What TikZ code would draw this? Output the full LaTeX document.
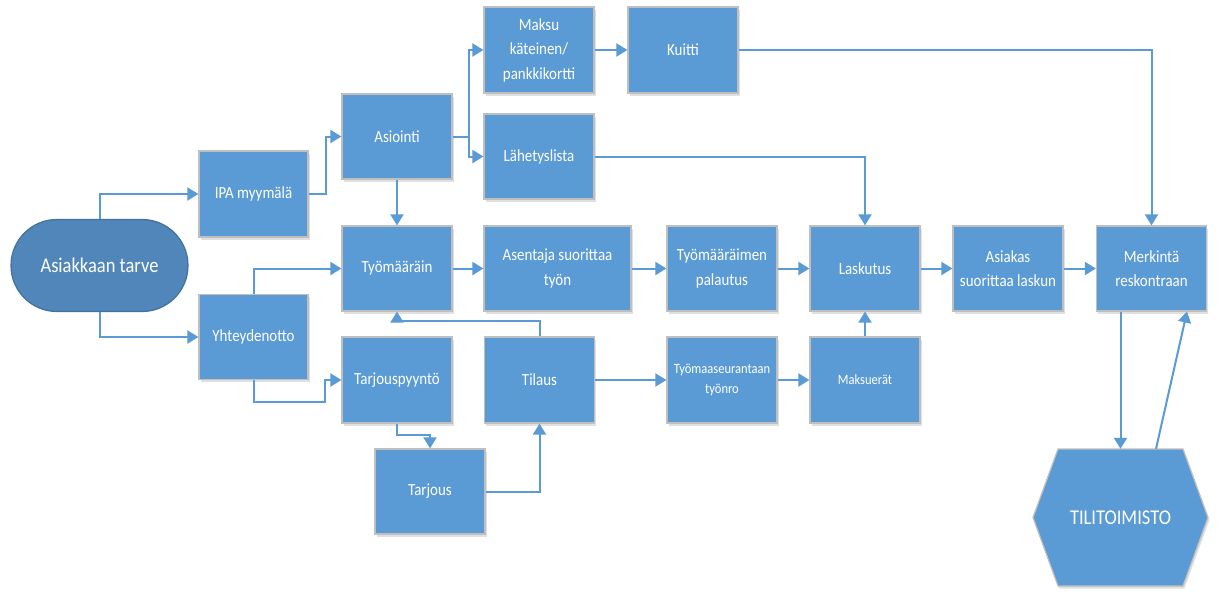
\documentclass[tikz,border=0pt]{standalone}
\usepackage{fontspec}
\setmainfont{Carlito}[FakeStretch=0.88]
\usetikzlibrary{arrows.meta,shadows}
\definecolor{boxblue}{HTML}{5B9BD5}
\definecolor{linkblue}{HTML}{5B9BD5}
\definecolor{darkblue}{RGB}{80,134,186}
\definecolor{darkedge}{HTML}{41719C}
\definecolor{edgegray}{HTML}{BFBFBF}
\tikzset{
  box/.style={draw=edgegray, line width=1.2pt, fill=boxblue, text=white,
    minimum width=110pt, minimum height=85pt, inner sep=2pt, align=center,
    font=\fontsize{17}{24.5}\selectfont,
    drop shadow={shadow xshift=1.5pt, shadow yshift=-2.5pt, opacity=0.12, fill=black}},
  smallbox/.style={box, font=\fontsize{14.2}{20}\selectfont},
  link/.style={draw=linkblue, line width=2pt, -{Triangle[length=11pt,width=13pt]}},
  terminal/.style={draw=darkedge, line width=1.2pt, fill=darkblue, text=white,
    minimum width=177pt, minimum height=92pt, rounded corners=45.9pt,
    font=\fontsize{21}{24}\selectfont},
  hexfill/.style={draw=edgegray, line width=1.2pt, fill=boxblue},
  hextext/.style={text=white, minimum width=175pt, minimum height=137pt,
    font=\fontsize{21}{24}\selectfont},
}
\begin{document}
\begin{tikzpicture}[x=1pt,y=-1pt]
\useasboundingbox[fill=white] (0,0) rectangle (1219,592);

\node[terminal] (tarve) at (99.5,265.5) {Asiakkaan tarve};
\node[box, minimum width=109pt, minimum height=86pt] (ipa) at (253.5,194) {IPA myymälä};
\node[box, minimum width=109pt] (yht) at (253.5,337) {Yhteydenotto};
\node[box] (asi) at (397,136.5) {Asiointi};
\node[box, minimum height=86pt] (maksu) at (539,50) {Maksu\\käteinen/\\pankkikortti};
\node[box, minimum height=86pt] (kuitti) at (683,50) {Kuitti};
\node[box] (lah) at (539,156.5) {Lähetyslista};
\node[box] (tyo) at (397,268.5) {Työmääräin};
\node[box, minimum width=147pt] (asentaja) at (557.5,268.5) {Asentaja suorittaa\\työn};
\node[box] (palautus) at (722,268.5) {Työmääräimen\\palautus};
\node[box] (lasku) at (865,268.5) {Laskutus};
\node[box] (asiakas) at (1008,268.5) {Asiakas\\suorittaa laskun};
\node[box] (merk) at (1151.5,268.5) {Merkintä\\reskontraan};
\node[box, minimum height=86pt] (tarjp) at (397,380) {Tarjouspyyntö};
\node[box, minimum height=86pt] (tilaus) at (539.5,380) {Tilaus};
\node[smallbox, minimum height=86pt] (seur) at (722,380) {Työmaaseurantaan\\työnro};
\node[smallbox, minimum height=86pt] (maksuerat) at (865,380) {Maksuerät};
\node[box] (tarjous) at (430,491.5) {Tarjous};

\fill[hexfill, drop shadow={shadow xshift=1.5pt, shadow yshift=-2.5pt, opacity=0.12, fill=black}]
  (1058,449) -- (1183,449) -- (1208,517.5) -- (1183,586) -- (1058,586) -- (1033,517.5) -- cycle;
\node[hextext] (tili) at (1120.5,517.5) {TILITOIMISTO};

% connectors
\draw[link] (tarve.north) |- (ipa.west);
\draw[link] (tarve.south) |- (yht.west);
\draw[link] (ipa.east) -- ++(17,0) |- (asi.west);
\draw[link] (yht.north) |- (tyo.west);
\draw[link] (yht.south) -- ++(0,22) -- ++(71,0) |- (tarjp.west);
\draw[link] (asi.east) -- ++(16,0) |- (maksu.west);
\draw[link] (asi.east) -- ++(16,0) |- (lah.west);
\draw[link] (asi.south) -- (tyo.north);
\draw[link] (maksu.east) -- (kuitti.west);
\draw[link] (kuitti.east) -| (merk.north);
\draw[link] (lah.east) -| (lasku.north);
\draw[link] (tyo.east) -- (asentaja.west);
\draw[link] (asentaja.east) -- (palautus.west);
\draw[link] (palautus.east) -- (lasku.west);
\draw[link] (lasku.east) -- (asiakas.west);
\draw[link] (asiakas.east) -- (merk.west);
\draw[link] (tilaus.north) -- ++(0,-15) -| (tyo.south);
\draw[link] (tarjp.south) -- ++(0,11) -| (tarjous.north);
\draw[link] (tarjous.east) -| (tilaus.south);
\draw[link] (tilaus.east) -- (seur.west);
\draw[link] (seur.east) -- (maksuerat.west);
\draw[link] (maksuerat.north) -- (lasku.south);
\draw[link] (tili.north |- merk.south) -- (tili.north);
\draw[link] ([xshift=35.5pt]tili.north) -- ([xshift=35.5pt]merk.south);
\end{tikzpicture}
\end{document}
